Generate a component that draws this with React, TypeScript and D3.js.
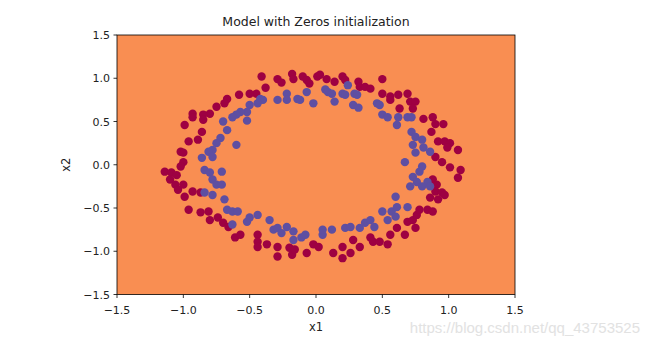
import React from "react";
import * as d3 from "d3";

// Outer ring (label 0, red)
const redX = [-0.41,-0.29,-0.26,-0.18,-0.17,-0.10,-0.07,-0.05,0.01,-0.38,-0.45,-0.50,-0.58,-0.67,-0.69,-0.75,-0.80,-0.85,-0.93,-0.93,-0.85,-0.99,
0.03,0.08,0.14,0.20,0.22,0.32,0.33,0.37,0.41,0.50,0.50,0.56,0.56,0.62,0.69,0.63,0.71,0.75,0.73,0.81,0.88,0.90,0.96,
0.87,0.92,0.97,1.01,0.99,1.07,0.90,0.95,1.01,1.09,1.07,0.88,0.91,0.90,0.95,0.97,0.86,0.92,
-0.86,-0.96,-0.89,-1.02,-1.00,-1.00,-1.02,-1.14,-1.09,-1.05,-1.10,-1.06,-1.04,-1.00,-0.93,-0.99,-0.87,
-0.96,-0.87,-0.81,-0.80,-0.74,-0.70,-0.66,-0.61,-0.57,-0.44,-0.44,-0.44,-0.37,-0.29,-0.29,-0.20,-0.18,-0.16,-0.07,-0.02,0.02,0.13,0.20,0.20,0.26,0.28,0.33,0.41,0.43,0.48,0.54,0.56,0.61,0.67,0.69,0.73,0.76,0.75,0.84,0.88,0.78];
const redY = [1.02,0.99,0.95,1.05,0.99,1.02,0.98,0.94,1.02,0.89,0.82,0.82,0.81,0.76,0.71,0.67,0.59,0.58,0.59,0.55,0.52,0.46,
1.04,0.99,0.96,1.02,0.98,0.96,0.90,0.90,0.88,0.99,0.82,0.79,0.75,0.81,0.82,0.65,0.73,0.73,0.65,0.53,0.55,0.47,0.47,
0.38,0.27,0.27,0.25,0.20,0.17,0.09,0.03,-0.03,-0.06,-0.15,-0.17,-0.23,-0.31,-0.32,-0.35,-0.38,-0.40,
0.38,0.27,0.29,0.15,0.14,0.03,-0.02,-0.08,-0.09,-0.12,-0.17,-0.23,-0.29,-0.23,-0.31,-0.37,-0.32,
-0.52,-0.55,-0.54,-0.64,-0.61,-0.67,-0.72,-0.84,-0.81,-0.81,-0.89,-0.95,-0.92,-0.95,-1.06,-0.96,-1.04,-0.98,-1.02,-0.92,-0.95,-1.02,-0.95,-1.08,-1.02,-0.87,-0.95,-0.84,-0.89,-0.89,-0.92,-0.81,-0.73,-0.81,-0.66,-0.64,-0.58,-0.73,-0.52,-0.54,-0.52];

// Inner ring (label 1, blue)
const blueX = [-0.42,-0.40,-0.44,-0.50,-0.52,-0.57,-0.60,-0.63,-0.52,-0.70,-0.29,-0.22,-0.22,-0.14,-0.12,-0.07,-0.02,
0.07,0.09,0.12,0.20,0.22,0.24,0.29,0.31,0.14,0.28,0.32,0.46,0.48,0.50,0.54,0.62,0.69,0.72,0.61,
0.72,0.75,0.80,0.73,0.81,0.75,0.86,0.67,0.80,0.78,0.73,0.76,0.84,0.71,0.80,0.86,0.60,0.57,
-0.67,-0.72,-0.75,-0.78,-0.81,-0.86,-0.60,-0.78,-0.84,-0.80,-0.71,-0.78,-0.75,-0.71,-0.84,-0.78,-0.69,
-0.67,-0.63,-0.59,-0.63,-0.52,-0.50,-0.44,-0.35,-0.32,-0.29,-0.26,-0.22,-0.17,-0.17,-0.11,-0.08,0.05,0.05,0.12,0.22,0.26,0.33,0.37,0.41,0.44,0.50,0.54,0.60,0.61,0.69];
const blueY = [0.76,0.75,0.71,0.69,0.61,0.61,0.58,0.55,0.51,0.50,0.75,0.82,0.75,0.76,0.75,0.84,0.71,
0.87,0.84,0.82,0.82,0.81,0.92,0.82,0.81,0.73,0.69,0.66,0.71,0.69,0.58,0.55,0.55,0.55,0.55,0.46,
0.38,0.32,0.29,0.23,0.20,0.14,0.15,0.03,-0.02,-0.08,-0.14,-0.20,-0.20,-0.25,-0.25,-0.25,-0.37,-0.54,
0.40,0.31,0.25,0.17,0.15,0.08,0.23,0.09,-0.06,-0.09,-0.08,-0.17,-0.23,-0.23,-0.32,-0.35,-0.40,
-0.52,-0.54,-0.54,-0.69,-0.66,-0.61,-0.58,-0.64,-0.75,-0.73,-0.79,-0.72,-0.77,-0.87,-0.84,-0.81,-0.81,-0.75,-0.75,-0.73,-0.72,-0.73,-0.67,-0.64,-0.72,-0.54,-0.64,-0.60,-0.49,-0.49];

const ticks = [-1.5, -1.0, -0.5, 0.0, 0.5, 1.0, 1.5];

const W = 650, H = 346;
const L = 117, R = 515, T = 35, B = 294.5;
const FONT = "'DejaVu Sans', sans-serif";

export default function App() {
  const x = d3.scaleLinear().domain([-1.5, 1.5]).range([L, R]);
  const y = d3.scaleLinear().domain([-1.5, 1.5]).range([B, T]);
  const fmt = (v: number) => d3.format(".1f")(v).replace("-", "\u2212");
  const red = redX.map((v, i) => [v, redY[i]]);
  const blue = blueX.map((v, i) => [v, blueY[i]]);
  return (
    <svg width={W} height={H} style={{ position: "absolute", left: 0, top: 0, background: "#fff" }} fontFamily={FONT}>
      <rect x={L} y={T} width={R - L} height={B - T} fill="#f98e52" />
      {red.map((p, i) => (
        <circle key={"r" + i} cx={x(p[0])} cy={y(p[1])} r={4.2} fill="#9e0142" />
      ))}
      {blue.map((p, i) => (
        <circle key={"b" + i} cx={x(p[0])} cy={y(p[1])} r={4.2} fill="#5e4fa2" />
      ))}
      <rect x={L} y={T} width={R - L} height={B - T} fill="none" stroke="#000" strokeWidth={0.8} />
      {ticks.map((t) => (
        <g key={"x" + t}>
          <line x1={x(t)} x2={x(t)} y1={B} y2={B + 3.5} stroke="#000" strokeWidth={0.8} />
          <text x={x(t)} y={B + 19} fontSize={11} textAnchor="middle" fill="#222">{fmt(t)}</text>
        </g>
      ))}
      {ticks.map((t) => (
        <g key={"y" + t}>
          <line x1={L - 3.5} x2={L} y1={y(t)} y2={y(t)} stroke="#000" strokeWidth={0.8} />
          <text x={L - 7} y={y(t) + 4} fontSize={11} textAnchor="end" fill="#222">{fmt(t)}</text>
        </g>
      ))}
      <text x={(L + R) / 2} y={26} fontSize={12.5} textAnchor="middle" fill="#222">Model with Zeros initialization</text>
      <text x={(L + R) / 2} y={331} fontSize={11.5} textAnchor="middle" fill="#222">x1</text>
      <text transform={`translate(70,${(T + B) / 2}) rotate(-90)`} fontSize={11.5} textAnchor="middle" fill="#222">x2</text>
      <text x={640} y={333} fontSize={15} textAnchor="end" fill="#e2e2e2" fontFamily="'Liberation Sans', Arial, sans-serif">https://blog.csdn.net/qq_43753525</text>
    </svg>
  );
}
